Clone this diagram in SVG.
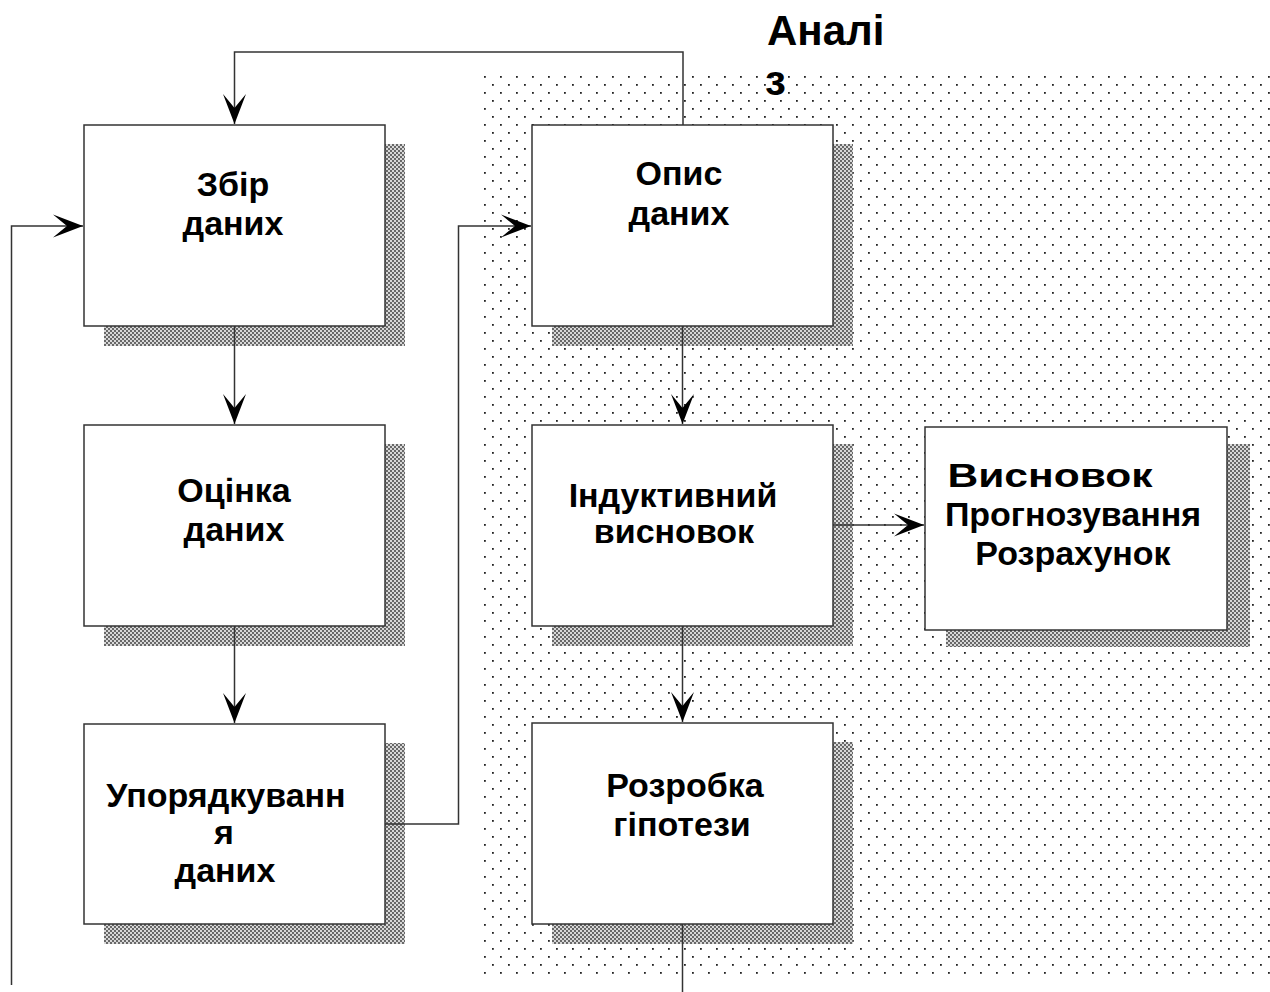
<svg xmlns="http://www.w3.org/2000/svg" width="1270" height="992" viewBox="0 0 1270 992">
<defs>
<pattern id="bgdots" patternUnits="userSpaceOnUse" x="484" y="76" width="16" height="16">
<rect x="0" y="0" width="1.8" height="1.8" fill="#222"/>
<rect x="8" y="8" width="1.8" height="1.8" fill="#222"/>
</pattern>
<pattern id="shade" patternUnits="userSpaceOnUse" x="0" y="0" width="4" height="4">
<rect width="4" height="4" fill="#d8d8d8"/>
<circle cx="1" cy="1" r="0.9" fill="#333"/>
<circle cx="3" cy="3" r="0.9" fill="#333"/>
</pattern>
<marker id="arr" markerUnits="userSpaceOnUse" markerWidth="34" markerHeight="28" viewBox="-32 -13 34 26" refX="0" refY="0" orient="auto">
<path d="M0,0 L-30,-11.5 Q-21,-4 -16,0 Q-21,4 -30,11.5 Z" fill="#000"/>
</marker>
</defs>
<style>
.box{fill:#fff;stroke:#333;stroke-width:1.5}
.sh{fill:url(#shade)}
.t{font-family:"Liberation Sans",Arial,sans-serif;font-weight:bold;font-size:34px;fill:#000;text-anchor:middle}
.ttl{font-family:"Liberation Sans",Arial,sans-serif;font-weight:bold;font-size:42px;fill:#000}
.ln{fill:none;stroke:#333;stroke-width:1.5}
</style>
<rect x="0" y="0" width="1270" height="992" fill="#fff"/>
<rect x="482" y="74" width="788" height="901" fill="url(#bgdots)"/>
<g id="title">
<text class="ttl" x="767" y="45">Аналі</text>
<text class="ttl" x="765" y="95">з</text>
</g>
<g id="n1">
<rect class="sh" x="104" y="144" width="301" height="202"/>
<rect class="box" x="84" y="125" width="301" height="201"/>
<text class="t" x="233" y="196">Збір</text>
<text class="t" x="233" y="235">даних</text>
</g>
<g id="n2">
<rect class="sh" x="104" y="444" width="301" height="202"/>
<rect class="box" x="84" y="425" width="301" height="201"/>
<text class="t" x="234" y="502">Оцінка</text>
<text class="t" x="234" y="541">даних</text>
</g>
<g id="n3">
<rect class="sh" x="104" y="743" width="301" height="201"/>
<rect class="box" x="84" y="724" width="301" height="200"/>
<text class="t" x="226" y="807">Упорядкуванн</text>
<text class="t" x="224" y="844">я</text>
<text class="t" x="225" y="882">даних</text>
</g>
<g id="n4">
<rect class="sh" x="552" y="144" width="301" height="202"/>
<rect class="box" x="532" y="125" width="301" height="201"/>
<text class="t" x="679" y="185">Опис</text>
<text class="t" x="679" y="225">даних</text>
</g>
<g id="n5">
<rect class="sh" x="552" y="444" width="301" height="202"/>
<rect class="box" x="532" y="425" width="301" height="201"/>
<text class="t" x="673" y="507">Індуктивний</text>
<text class="t" x="674" y="543">висновок</text>
</g>
<g id="n6">
<rect class="sh" x="552" y="742" width="301" height="202"/>
<rect class="box" x="532" y="723" width="301" height="201"/>
<text class="t" x="685" y="797">Розробка</text>
<text class="t" x="682" y="836">гіпотези</text>
</g>
<g id="n7">
<rect class="sh" x="946" y="444" width="304" height="203"/>
<rect class="box" x="925" y="427" width="302" height="203"/>
<text class="t" x="1050" y="487" textLength="205" lengthAdjust="spacingAndGlyphs">Висновок</text>
<text class="t" x="1073" y="526">Прогнозування</text>
<text class="t" x="1073" y="565">Розрахунок</text>
</g>
<g id="connectors">
<path class="ln" d="M683,125 V52 H234.5 V124" marker-end="url(#arr)"/>
<path class="ln" d="M11.5,985 V226 H83" marker-end="url(#arr)"/>
<path class="ln" d="M234.5,326 V424" marker-end="url(#arr)"/>
<path class="ln" d="M234.5,626 V723" marker-end="url(#arr)"/>
<path class="ln" d="M385,824 H458.5 V226 H531" marker-end="url(#arr)"/>
<path class="ln" d="M682.5,326 V424" marker-end="url(#arr)"/>
<path class="ln" d="M833,525 H924" marker-end="url(#arr)"/>
<path class="ln" d="M682.5,626 V722" marker-end="url(#arr)"/>
<path class="ln" d="M682.5,924 V992"/>
</g>
</svg>
